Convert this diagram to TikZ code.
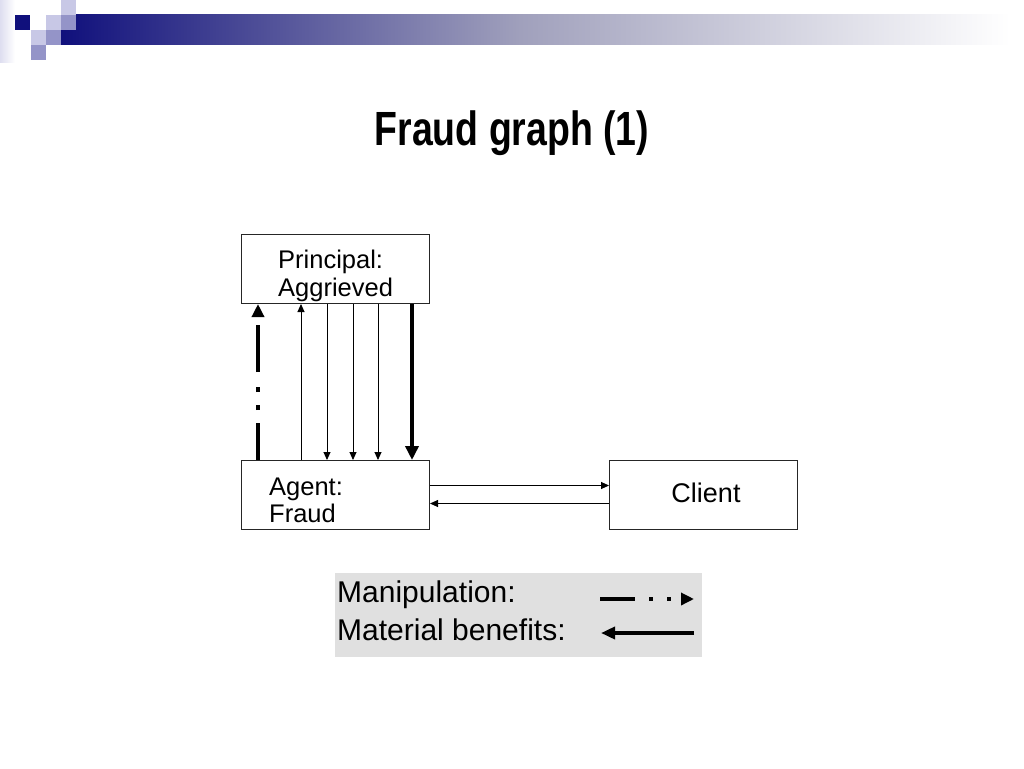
\documentclass[tikz,border=0pt]{standalone}
\usepackage{fontspec}
\setmainfont{Liberation Sans}
\newfontfamily\titlefont{Liberation Sans}[FakeStretch=0.78]
\usetikzlibrary{arrows.meta}
\definecolor{navy}{HTML}{10107C}
\definecolor{barmid}{HTML}{A0A0BC}
\definecolor{lavlight}{HTML}{C8C8E6}
\definecolor{lavmid}{HTML}{9494C8}
\definecolor{legendgray}{HTML}{E0E0E0}
\tikzset{
  box/.style={draw=black!85, line width=1pt, minimum width=188pt, minimum height=69pt, inner sep=0pt, anchor=north west},
  boxtext/.style={anchor=base west, inner sep=0pt, font=\fontsize{25.5}{29}\selectfont},
  thin/.style={line width=0.9pt, -{Triangle[length=8pt,width=7pt]}},
  thick/.style={line width=4pt, -{Triangle[length=14pt,width=13pt]}},
  manip/.style={line width=4pt, dash pattern={on 37pt off 13pt on 5pt off 13pt on 5pt off 15pt on 47pt off 20pt}, -{Triangle[length=13pt,width=12pt]}},
}
\begin{document}
\begin{tikzpicture}[x=1pt,y=-1pt]
\useasboundingbox (0,0) rectangle (1024,768);
% decoration
\shade[left color=lavlight!60, right color=white] (0,0) rectangle (15,62);
\shade[left color=navy, right color=barmid] (61,15) rectangle (520,45);
\shade[left color=barmid, right color=white] (519.5,15) rectangle (1010,45);
\fill[navy] (15,15) rectangle (30,30);
\fill[lavlight] (46,15) rectangle (61,30);
\fill[lavlight] (61,0) rectangle (76,15);
\fill[lavlight] (31,30) rectangle (46,45);
\fill[lavmid] (61,15) rectangle (76,30);
\fill[lavmid] (46,30) rectangle (61,45);
\fill[lavmid] (31,45) rectangle (46,60);
% title
\node[anchor=base, inner sep=0pt, font=\titlefont\bfseries\fontsize{48}{56}\selectfont] (title) at (512,145) {Fraud graph (1)};
% boxes
\node[box] (principal) at (241,234) {};
\node[box] (agent) at (241,460) {};
\node[box] (client) at (609,460) {};
\node[boxtext] (ptext1) at (278,268) {Principal:};
\node[boxtext] (ptext2) at (278,296) {Aggrieved};
\node[boxtext] (atext1) at (269,495) {Agent:};
\node[boxtext] (atext2) at (269,522) {Fraud};
\node[anchor=base, inner sep=0pt, font=\fontsize{27}{31}\selectfont] (ctext) at (706,502) {Client};
% vertical connectors
\draw[manip] ([xshift=17pt]agent.north west) -- ([xshift=17pt]principal.south west);
\draw[thin] ([xshift=60pt]agent.north west) -- ([xshift=60pt]principal.south west);
\draw[thin] ([xshift=86pt]principal.south west) -- ([xshift=86pt]agent.north west);
\draw[thin] ([xshift=112pt]principal.south west) -- ([xshift=112pt]agent.north west);
\draw[thin] ([xshift=137pt]principal.south west) -- ([xshift=137pt]agent.north west);
\draw[thick] ([xshift=171pt]principal.south west) -- ([xshift=171pt]agent.north west);
% horizontal connectors
\draw[thin] ([yshift=9.5pt]agent.east) -- ([yshift=9.5pt]client.west);
\draw[thin] ([yshift=-8.5pt]client.west) -- ([yshift=-8.5pt]agent.east);
% legend
\node[fill=legendgray, draw=none, minimum width=367pt, minimum height=84pt, inner sep=0pt, anchor=north west] (legend) at (335,573) {};
\node[anchor=base west, inner sep=0pt, font=\fontsize{30}{34}\selectfont] (ltext1) at (337,602) {Manipulation:};
\node[anchor=base west, inner sep=0pt, font=\fontsize{30}{34}\selectfont] (ltext2) at (337,640) {Material benefits:};
\coordinate (m1) at (600,599);
\coordinate (m2) at (694,599);
\coordinate (b1) at (694,633);
\coordinate (b2) at (601,633);
\draw[line width=4pt, dash pattern={on 35pt off 14pt on 4pt off 14pt on 4pt off 30pt}, -{Triangle[length=13pt,width=12pt]}] (m1) -- (m2);
\draw[line width=4pt, -{Triangle[length=14pt,width=12pt]}] (b1) -- (b2);
\end{tikzpicture}
\end{document}
